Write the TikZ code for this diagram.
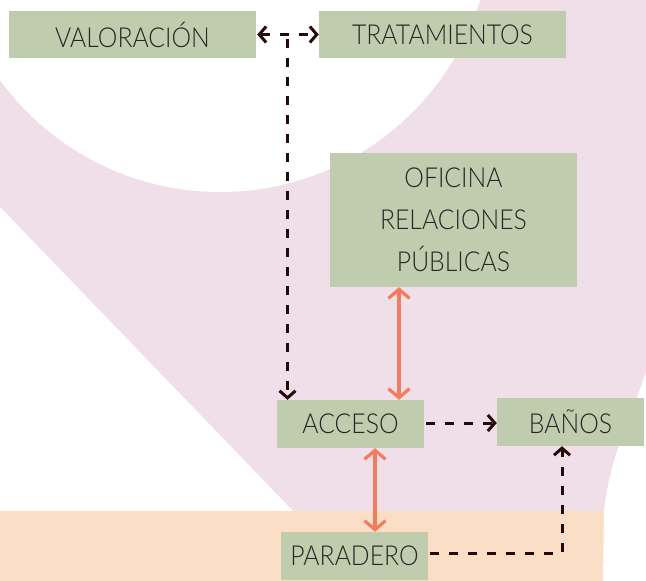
\documentclass[tikz,border=0pt]{standalone}
\usepackage{fontspec}
\setmainfont{Lato Light}[FakeStretch=0.9]
\usetikzlibrary{arrows.meta}
\definecolor{pinkbg}{HTML}{F0DFE9}
\definecolor{peachbg}{HTML}{FADEC5}
\definecolor{boxgreen}{HTML}{BFCDAE}
\definecolor{textdark}{HTML}{262626}
\definecolor{darkarrow}{HTML}{240A0A}
\definecolor{orangearrow}{HTML}{F47C5C}
\begin{document}
\begin{tikzpicture}[x=1pt,y=-1pt,
  box/.style={fill=boxgreen, inner sep=0pt, text=textdark,
    font=\fontsize{27.5}{42}\selectfont, align=center},
  darr/.style={draw=darkarrow, line width=3pt, dash pattern=on 9pt off 10pt},
  dtip/.style={arrows={-Straight Barb[length=7pt,width=16pt]}},
  dtips/.style={arrows={Straight Barb[length=7pt,width=16pt]-Straight Barb[length=7pt,width=16pt]}},
  oarr/.style={draw=orangearrow, line width=3.2pt,
    arrows={Straight Barb[length=9pt,width=21pt]-Straight Barb[length=9pt,width=21pt]}}]
\useasboundingbox (0,0) rectangle (646,581);
% background
\fill[white] (0,0) rectangle (646,581);
\fill[pinkbg] (0,0) rectangle (646,511);
\fill[white] (220,-80) circle[radius=272];
\fill[white] (0,207) -- (293,511) -- (0,511) -- cycle;
\fill[peachbg] (0,511) rectangle (646,581);
\fill[white] (646,372) .. controls (632,415) and (610,455) .. (604,511) -- (603,581) -- (646,581) -- cycle;
% nodes
\node[box, minimum width=247pt, minimum height=47pt] (val) at (132.5,34.5) {VALORACIÓN};
\node[box, minimum width=247pt, minimum height=47pt] (trat) at (442.5,34.5) {TRATAMIENTOS};
\node[box, minimum width=247pt, minimum height=134pt] (ofi) at (453.5,220) {OFICINA\\RELACIONES\\PÚBLICAS};
\node[box, minimum width=147pt, minimum height=48pt] (acc) at (350.5,424) {ACCESO};
\node[box, minimum width=147pt, minimum height=48pt] (ban) at (570.5,422) {BAÑOS};
\node[box, minimum width=147pt, minimum height=48pt] (par) at (354.5,556) {PARADERO};
% helper coordinates
\coordinate (j) at (287.5,39);
\coordinate (xo) at (399,0);
\coordinate (xp) at (375,0);
\coordinate (xb) at (562,0);
% connectors
\draw[darr, dtips] (val.east) ++(1,0) -- (trat.west);
\draw[darr, dtip] (j) -- (j |- acc.north);
\draw[oarr] (ofi.south -| xo) -- (acc.north -| xo);
\draw[oarr] (acc.south -| xp) -- (par.north -| xp);
\draw[darr, dtip] (acc.east) ++(2,-1) -- (ban.west |- 0,423);
\draw[darr, dtip] (par.east) ++(2,-3) -| (ban.south -| xb);
\end{tikzpicture}
\end{document}
